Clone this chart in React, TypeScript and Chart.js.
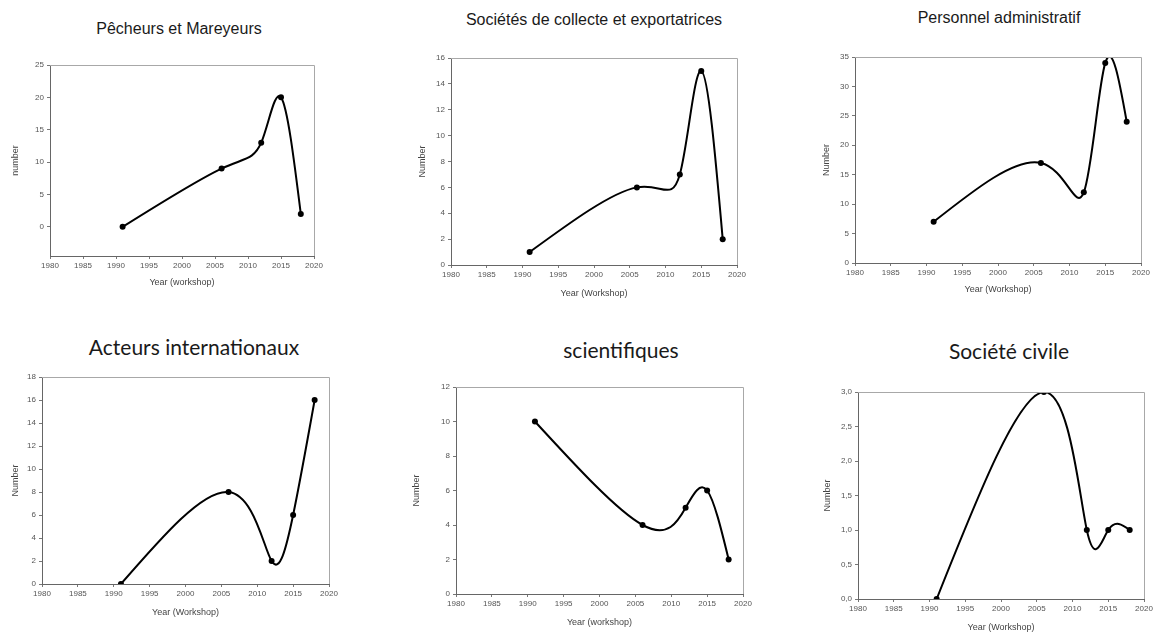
import React, { useEffect, useRef } from "react";
import { Chart, registerables } from "chart.js";

Chart.register(...registerables);

// ---------- data ----------
const years = [1991, 2006, 2012, 2015, 2018];
const xTickYears = [1980, 1985, 1990, 1995, 2000, 2005, 2010, 2015, 2020];

const pecheursValues = [0, 9, 13, 20, 2];
const societesValues = [1, 6, 7, 15, 2];
const personnelValues = [7, 17, 12, 34, 24];
const acteursValues = [0, 8, 2, 6, 16];
const scientifiquesValues = [10, 4, 5, 6, 2];
const societeCivileValues = [0, 3, 1, 1, 1];

const panelTitles = [
  "Pêcheurs et Mareyeurs",
  "Sociétés de collecte et exportatrices",
  "Personnel administratif",
  "Acteurs internationaux",
  "scientifiques",
  "Société civile",
];
const yAxisTitles = ["number", "Number", "Number", "Number", "Number", "Number"];
const xAxisTitles = [
  "Year (workshop)",
  "Year (Workshop)",
  "Year (Workshop)",
  "Year (Workshop)",
  "Year (workshop)",
  "Year (Workshop)",
];
const seriesValues = [
  pecheursValues,
  societesValues,
  personnelValues,
  acteursValues,
  scientifiquesValues,
  societeCivileValues,
];
// y axis ranges: [min, max, step]
const yRanges: [number, number, number][] = [
  [-4.5, 25, 5],
  [0, 16, 2],
  [0, 35, 5],
  [0, 18, 2],
  [0, 12, 2],
  [0, 3, 0.5],
];
const yCommaDecimals = [false, false, false, false, false, true];

// ---------- layout (pixels) ----------
type Layout = {
  l: number; t: number; r: number; b: number;
  yTitleX: number; xTitleY: number;
  titleX: number; titleBaseline: number; calibri: boolean;
};
const layouts: Layout[] = [
  { l: 50, t: 65, r: 314, b: 256, yTitleX: 15, xTitleY: 283, titleX: 179, titleBaseline: 35, calibri: false },
  { l: 451, t: 58, r: 737, b: 265, yTitleX: 422, xTitleY: 294, titleX: 594, titleBaseline: 26, calibri: false },
  { l: 855, t: 57, r: 1141, b: 263, yTitleX: 826, xTitleY: 290, titleX: 999, titleBaseline: 24, calibri: false },
  { l: 42, t: 377, r: 329, b: 584, yTitleX: 15, xTitleY: 613, titleX: 194, titleBaseline: 355, calibri: true },
  { l: 456, t: 387, r: 743, b: 594, yTitleX: 416, xTitleY: 623, titleX: 621, titleBaseline: 358, calibri: true },
  { l: 858, t: 392, r: 1144, b: 599, yTitleX: 827, xTitleY: 628, titleX: 1009, titleBaseline: 359, calibri: true },
];

const AXIS_FONT = "'Liberation Sans', Arial, sans-serif";
const TITLE_FONT_SIZE = 9;
const TITLE_LH = TITLE_FONT_SIZE * 1.2;
const PAD_TOP = 10;
const PAD_RIGHT = 14;

const boxPlugin = {
  id: "boxBorder",
  afterDatasetsDraw(chart: any) {
    const { ctx, chartArea } = chart;
    ctx.save();
    ctx.strokeStyle = "#a8a8a8";
    ctx.lineWidth = 1;
    ctx.beginPath();
    ctx.moveTo(chartArea.left, chartArea.top + 0.5);
    ctx.lineTo(chartArea.right + 0.5, chartArea.top + 0.5);
    ctx.lineTo(chartArea.right + 0.5, chartArea.bottom);
    ctx.stroke();
    ctx.restore();
  },
};

// natural cubic spline tangents with uniform parameterisation
function splineTangents(p: number[]): number[] {
  const n = p.length;
  if (n < 2) return p.map(() => 0);
  const a = new Array(n).fill(1);
  const b = new Array(n).fill(4);
  const c = new Array(n).fill(1);
  const d = new Array(n).fill(0);
  b[0] = 2; b[n - 1] = 2;
  d[0] = 3 * (p[1] - p[0]);
  d[n - 1] = 3 * (p[n - 1] - p[n - 2]);
  for (let i = 1; i < n - 1; i++) d[i] = 3 * (p[i + 1] - p[i - 1]);
  const cp = new Array(n).fill(0);
  const dp = new Array(n).fill(0);
  cp[0] = c[0] / b[0];
  dp[0] = d[0] / b[0];
  for (let i = 1; i < n; i++) {
    const m = b[i] - a[i] * cp[i - 1];
    cp[i] = c[i] / m;
    dp[i] = (d[i] - a[i] * dp[i - 1]) / m;
  }
  const D = new Array(n).fill(0);
  D[n - 1] = dp[n - 1];
  for (let i = n - 2; i >= 0; i--) D[i] = dp[i] - cp[i] * D[i + 1];
  return D;
}

const splinePlugin = {
  id: "naturalSpline",
  beforeDatasetDraw(chart: any, args: any) {
    const meta = args.meta;
    const pts = meta.data;
    if (!pts || pts.length < 3) return;
    const Dx = splineTangents(pts.map((pt: any) => pt.x));
    const Dy = splineTangents(pts.map((pt: any) => pt.y));
    pts.forEach((pt: any, i: number) => {
      pt.cp1x = pt.x - Dx[i] / 3;
      pt.cp1y = pt.y - Dy[i] / 3;
      pt.cp2x = pt.x + Dx[i] / 3;
      pt.cp2y = pt.y + Dy[i] / 3;
    });
    meta.dataset._pointsUpdated = true;
    meta.dataset._path = undefined;
  },
};

function Panel({ idx }: { idx: number }) {
  const ref = useRef<HTMLCanvasElement | null>(null);
  const lay = layouts[idx];
  const canvasLeft = Math.round(lay.yTitleX - TITLE_LH / 2);
  const canvasTop = lay.t - PAD_TOP;
  const canvasRight = lay.r + PAD_RIGHT;
  const canvasBottom = Math.round(lay.xTitleY + TITLE_LH / 2);
  const w = canvasRight - canvasLeft;
  const h = canvasBottom - canvasTop;
  const yScaleWidth = lay.l - canvasLeft;
  const xScaleHeight = canvasBottom - lay.b;

  useEffect(() => {
    if (!ref.current) return;
    const [ymin, ymax, ystep] = yRanges[idx];
    const comma = yCommaDecimals[idx];
    const vals = seriesValues[idx];
    const chart = new Chart(ref.current, {
      type: "line",
      data: {
        datasets: [
          {
            data: years.map((x, i) => ({ x, y: vals[i] })),
            borderColor: "#000",
            backgroundColor: "#000",
            borderWidth: 2,
            pointRadius: 3,
            pointBackgroundColor: "#000",
            pointBorderColor: "#000",
            pointBorderWidth: 0,
            tension: 0.4,
            fill: false,
          },
        ],
      },
      options: {
        animation: false,
        responsive: false,
        events: [],
        layout: { padding: { top: PAD_TOP, right: PAD_RIGHT, left: 0, bottom: 0 } },
        plugins: {
          legend: { display: false },
          tooltip: { enabled: false },
          title: { display: false },
        },
        scales: {
          x: {
            type: "linear",
            min: xTickYears[0],
            max: xTickYears[xTickYears.length - 1],
            afterBuildTicks: (scale: any) => {
              scale.ticks = xTickYears.map((v) => ({ value: v }));
            },
            afterFit: (scale: any) => {
              scale.height = xScaleHeight;
            },
            ticks: {
              stepSize: 5,
              autoSkip: false,
              maxRotation: 0,
              padding: 2,
              color: "#555",
              font: { family: AXIS_FONT, size: 8 },
              callback: (v: any) => String(v),
            },
            grid: {
              drawOnChartArea: false,
              drawTicks: true,
              tickLength: 3,
              color: "#777",
            },
            border: { display: true, color: "#666", width: 1 },
            title: {
              display: true,
              text: xAxisTitles[idx],
              color: "#444",
              padding: 0,
              font: { family: AXIS_FONT, size: TITLE_FONT_SIZE },
            },
          },
          y: {
            type: "linear",
            min: ymin,
            max: ymax,
            afterBuildTicks: (scale: any) => {
              const ticks = [];
              for (let v = 0; v <= ymax + 1e-9; v += ystep) ticks.push({ value: Math.round(v * 100) / 100 });
              scale.ticks = ticks;
            },
            afterFit: (scale: any) => {
              scale.width = yScaleWidth;
            },
            ticks: {
              stepSize: ystep,
              padding: 3,
              color: "#555",
              font: { family: AXIS_FONT, size: 8 },
              callback: (v: any) => (comma ? Number(v).toFixed(1).replace(".", ",") : String(v)),
            },
            grid: {
              drawOnChartArea: false,
              drawTicks: true,
              tickLength: 3,
              color: "#777",
            },
            border: { display: true, color: "#666", width: 1 },
            title: {
              display: true,
              text: yAxisTitles[idx],
              color: "#444",
              padding: 0,
              font: { family: AXIS_FONT, size: TITLE_FONT_SIZE },
            },
          },
        },
      } as any,
      plugins: [splinePlugin, boxPlugin],
    });
    return () => chart.destroy();
  }, [idx]);

  const titleSize = lay.calibri ? 21 : 16;
  const baselineK = lay.calibri ? 0.887 : 0.8465;
  return (
    <>
      <div
        style={{
          position: "absolute",
          left: lay.titleX,
          top: lay.titleBaseline - baselineK * titleSize,
          transform: "translateX(-50%)",
          whiteSpace: "nowrap",
          fontFamily: lay.calibri ? "Lato, 'Open Sans', sans-serif" : AXIS_FONT,
          fontSize: titleSize,
          lineHeight: 1,
          color: "#1a1a1a",
        }}
      >
        {panelTitles[idx]}
      </div>
      <canvas
        ref={ref}
        width={w}
        height={h}
        style={{ position: "absolute", left: canvasLeft, top: canvasTop, width: w, height: h }}
      />
    </>
  );
}

export default function App() {
  return (
    <div
      style={{
        position: "fixed",
        left: 0,
        top: 0,
        width: 1153,
        height: 633,
        background: "#fff",
        overflow: "hidden",
      }}
    >
      {layouts.map((_, i) => (
        <Panel key={i} idx={i} />
      ))}
    </div>
  );
}
